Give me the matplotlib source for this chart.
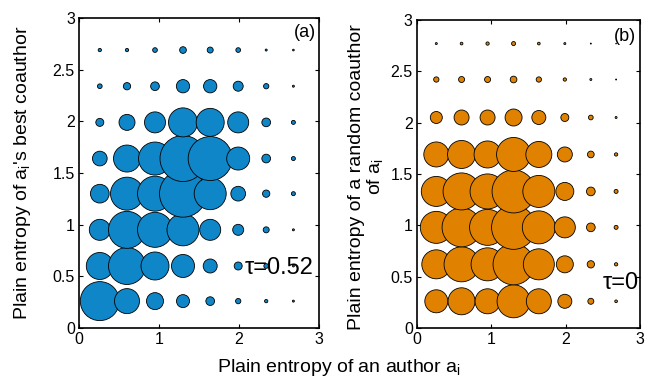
import numpy as np
import matplotlib
matplotlib.use("Agg")
import matplotlib.pyplot as plt

plt.rcParams['font.family'] = ['Liberation Sans', 'DejaVu Sans']
plt.rcParams['mathtext.fontset'] = 'custom'
plt.rcParams['mathtext.rm'] = 'Liberation Sans'
plt.rcParams['mathtext.it'] = 'Liberation Sans'

# bin centres (entropy of author a_i)
x_bins = [0.26, 0.6, 0.95, 1.3, 1.64, 1.99, 2.34, 2.68]
y_bins_a = [0.26, 0.6, 0.95, 1.3, 1.64, 1.99, 2.34, 2.69]
y_bins_b = [0.26, 0.62, 0.98, 1.33, 1.69, 2.05, 2.42, 2.77]

# bubble magnitude, rows from bottom (low y) to top
size_a = [
    [39, 25, 17, 13, 8.7, 5.3, 3.3, 2],
    [27, 37, 28, 23, 14, 8, 4.7, 2],
    [21, 37, 35, 32, 21, 11, 6, 2],
    [18.7, 33, 35, 47, 32, 14.7, 7.3, 4],
    [14.7, 27, 33, 46, 44, 23, 8.7, 4],
    [8, 16, 21, 29, 28, 21, 8.7, 4],
    [4.7, 7.3, 8.7, 13.3, 13.3, 10, 5.3, 2],
    [3.3, 3.3, 4.7, 6.7, 6, 4.7, 2, 1.7],
]
size_b = [
    [23, 27, 25, 33, 25, 14, 6, 2.7],
    [29, 35, 33, 41, 31, 17, 7.3, 3.3],
    [32, 39, 36, 44, 33, 21, 8.7, 4],
    [30, 37, 35, 43, 32, 18, 8.7, 4],
    [25, 28, 27, 34, 26, 15, 6.7, 3.3],
    [12, 15, 15, 17, 14, 8, 4.7, 2],
    [5.3, 6, 6, 6.7, 5.3, 3.3, 2, 1],
    [2, 2.7, 3.3, 4, 2.7, 2, 1, 0.7],
]
tau_a = "0.52"
tau_b = "0"

fig = plt.figure(figsize=(6.46, 3.86), dpi=100)
ax1 = fig.add_axes([0.1223, 0.1503, 0.3715, 0.803])
ax2 = fig.add_axes([0.6455, 0.1503, 0.345, 0.798])


def bubbles(ax, ybins, sizes, color):
    xx, yy = np.meshgrid(x_bins, ybins)
    d = np.array(sizes) * 0.72  # diameter in points
    ax.scatter(xx.ravel(), yy.ravel(), s=(d ** 2).ravel(), c=color,
               edgecolors='black', linewidths=0.6, zorder=3)
    ax.set_xlim(0, 3)
    ax.set_ylim(0, 3)
    ax.set_xticks([0, 1, 2, 3])
    ax.set_yticks([0, 0.5, 1, 1.5, 2, 2.5, 3])
    ax.set_yticklabels(['0', '0.5', '1', '1.5', '2', '2.5', '3'])
    ax.tick_params(direction='in', top=True, right=True, labelsize=11.5,
                   length=3, width=0.8, pad=3)
    for sp in ax.spines.values():
        sp.set_linewidth(1.2)


bubbles(ax1, y_bins_a, size_a, '#0E86C8')
bubbles(ax2, y_bins_b, size_b, '#E08200')

ax1.text(2.96, 2.86, '(a)', ha='right', va='center', fontsize=13)
ax2.text(2.95, 2.84, '(b)', ha='right', va='center', fontsize=13)
ax1.text(2.07, 0.58, 'τ=' + tau_a, ha='left', va='center', fontsize=17)
ax2.text(2.5, 0.44, 'τ=' + tau_b, ha='left', va='center', fontsize=17)

ax1.set_ylabel(r"Plain entropy of $\mathregular{a_i}$'s best coauthor",
               fontsize=14)
ax1.yaxis.set_label_coords(-0.19, 0.5)
ax2.set_ylabel("Plain entropy of a random coauthor\n" + r"of $\mathregular{a_i}$",
               fontsize=14, linespacing=0.95)
ax2.yaxis.set_label_coords(-0.145, 0.49)

fig.text(0.525, 0.047, r"Plain entropy of an author $\mathregular{a_i}$",
         ha='center', va='center', fontsize=14)

fig.savefig('out.png', dpi=100)
